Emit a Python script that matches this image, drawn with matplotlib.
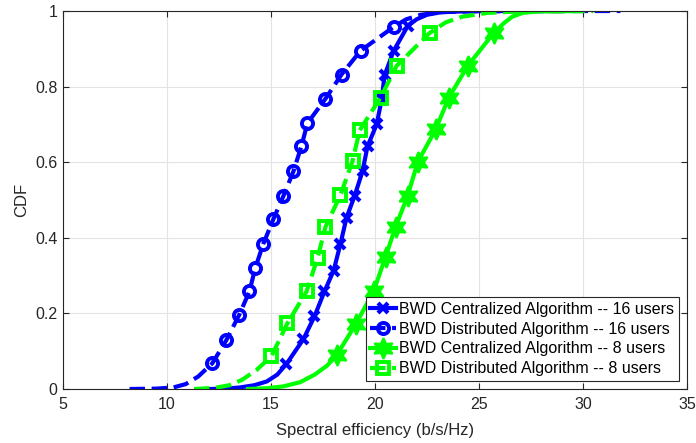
import matplotlib
matplotlib.use("Agg")
import matplotlib.pyplot as plt
from matplotlib.ticker import FuncFormatter

plt.rcParams['font.family'] = ['Liberation Sans', 'DejaVu Sans']

cen16_x = [12.1, 12.8, 13.5, 14.2, 14.8, 15.3, 15.74, 16.56, 17.09, 17.57, 18.01, 18.34,
           18.63, 19.02, 19.40, 19.64, 20.08, 20.32, 20.46, 20.90, 21.57, 22.0,
           22.5, 23.2, 24.5, 29.0]
cen16_y = [0.0, 0.001, 0.004, 0.010, 0.020, 0.038, 0.066, 0.132, 0.192, 0.258, 0.313, 0.384,
           0.453, 0.511, 0.576, 0.642, 0.700, 0.766, 0.830, 0.895, 0.960, 0.978,
           0.990, 0.997, 0.9995, 1.0]
cen16_marks = list(range(6, 21))

dis16_x = [8.2, 9.5, 10.3, 10.9, 11.5, 12.18, 12.85, 13.48, 13.96, 14.25, 14.63, 15.12,
           15.60, 16.08, 16.46, 16.75, 17.62, 18.39, 19.31, 20.90, 21.5, 22.2, 23.2,
           25.0, 31.8]
dis16_y = [0.0, 0.001, 0.004, 0.013, 0.033, 0.068, 0.129, 0.197, 0.258, 0.321, 0.384, 0.450,
           0.511, 0.576, 0.642, 0.703, 0.768, 0.832, 0.895, 0.958, 0.978, 0.990, 0.997,
           0.9995, 1.0]
dis16_marks = list(range(5, 20))

cen8_x = [13.9, 14.8, 15.6, 16.4, 17.1, 17.7, 18.15, 19.07, 19.93, 20.51, 20.99, 21.57,
          22.05, 22.92, 23.55, 24.46, 25.71, 26.2, 26.6, 27.1, 27.8, 29.9]
cen8_y = [0.0, 0.002, 0.007, 0.018, 0.038, 0.062, 0.089, 0.171, 0.258, 0.350, 0.429, 0.511,
          0.600, 0.687, 0.771, 0.855, 0.942, 0.968, 0.985, 0.995, 0.999, 1.0]
cen8_marks = list(range(6, 17))

dis8_x = [11.3, 12.3, 13.0, 13.6, 14.3, 15.02, 15.79, 16.71, 17.24, 17.62, 18.34, 18.92,
          19.26, 20.27, 21.04, 22.63, 23.4, 24.2, 25.4, 27.0, 30.5]
dis8_y = [0.0, 0.003, 0.010, 0.024, 0.050, 0.087, 0.174, 0.258, 0.347, 0.429, 0.513, 0.603,
          0.684, 0.771, 0.855, 0.942, 0.970, 0.985, 0.995, 0.999, 1.0]
dis8_marks = list(range(5, 16))

labels = ["BWD Centralized Algorithm -- 16 users",
          "BWD Distributed Algorithm -- 16 users",
          "BWD Centralized Algorithm -- 8 users",
          "BWD Distributed Algorithm -- 8 users"]

blue = "#0000ff"
green = "#00ff00"
dark = "#262626"

fig = plt.figure(figsize=(6.96, 4.43), dpi=100)
ax = fig.add_axes([63 / 696, 1 - 389 / 443, 624 / 696, 378 / 443])

ax.plot(cen16_x, cen16_y, color=blue, lw=3, ls="-", marker="x", ms=7, mew=3,
        markevery=cen16_marks, label=labels[0])
ax.plot(dis16_x, dis16_y, color=blue, lw=3, ls="--", marker="o", ms=8, mew=2.8,
        mfc="none", markevery=dis16_marks, label=labels[1])
ax.plot(cen8_x, cen8_y, color=green, lw=3, ls="-", marker=(6, 1, 0), ms=15, mew=1.5,
        markevery=cen8_marks, label=labels[2])
ax.plot(dis8_x, dis8_y, color=green, lw=3, ls="--", marker="s", ms=8, mew=2.8,
        mfc="none", markevery=dis8_marks, label=labels[3])

ax.set_xlim(5, 35)
ax.set_ylim(0, 1)
ax.set_xticks([5, 10, 15, 20, 25, 30, 35])
ax.set_yticks([0, 0.2, 0.4, 0.6, 0.8, 1])
ax.yaxis.set_major_formatter(FuncFormatter(lambda v, p: "%g" % v))
ax.grid(True, color="#e3e3e3", lw=0.8)
ax.set_axisbelow(True)
ax.tick_params(direction="in", top=True, right=True, colors=dark, labelsize=11.5,
               length=4, width=0.8)
ax.tick_params(axis="x", pad=6)
ax.tick_params(axis="y", pad=4)
for s in ax.spines.values():
    s.set_color(dark)
    s.set_linewidth(0.8)

ax.set_xlabel("Spectral efficiency (b/s/Hz)", fontsize=12, color=dark, labelpad=8)
ax.set_ylabel("CDF", fontsize=12, color=dark, labelpad=4)

leg = ax.legend(loc="lower right", fontsize=11.5, handlelength=1.6, handletextpad=0.2,
                borderpad=0.3, labelspacing=0.3, borderaxespad=0.5,
                fancybox=False, framealpha=1, edgecolor=dark)
leg.get_frame().set_linewidth(0.8)

fig.savefig("out.png", dpi=100)
